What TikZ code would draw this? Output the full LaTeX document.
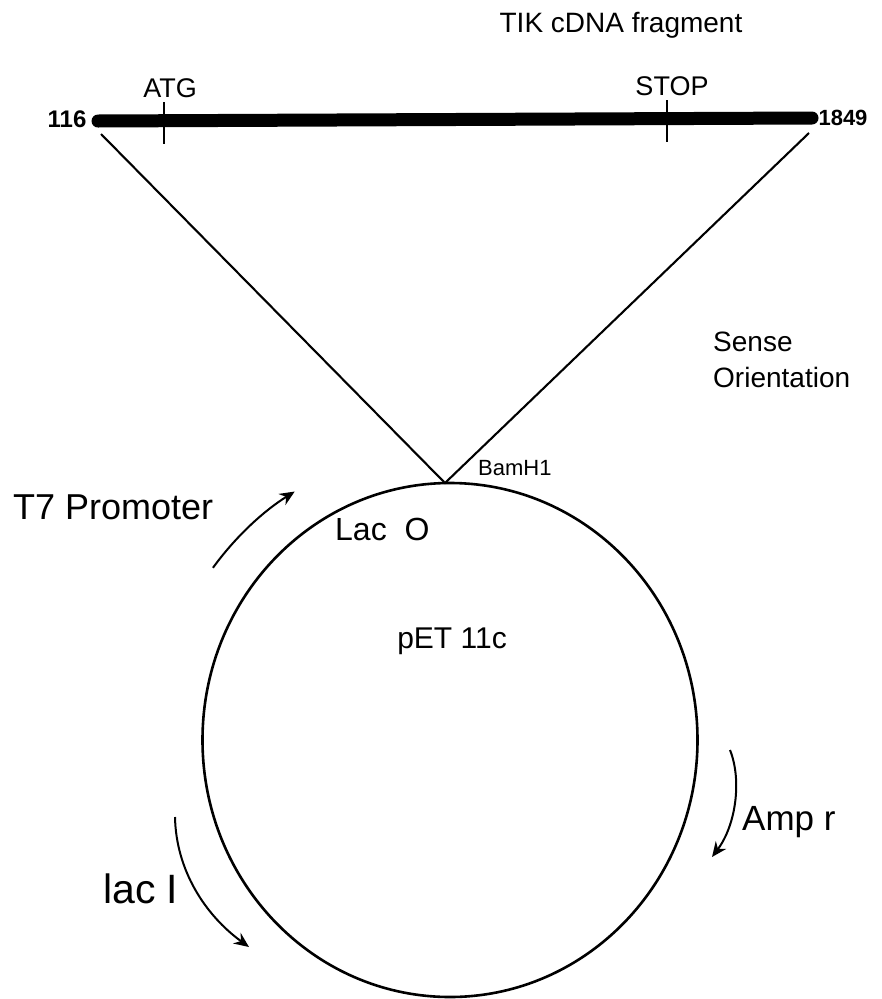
\documentclass[tikz,border=0pt]{standalone}
\usepackage{fontspec}
\setmainfont{Liberation Sans}
\usetikzlibrary{arrows.meta,shapes.geometric}

\begin{document}
\begin{tikzpicture}[x=1pt,y=1pt,
  txt/.style={inner sep=0pt, font=\fontsize{#1}{#1}\selectfont},
  fragment/.style={line width=13pt, line cap=round},
  tickmark/.style={line width=1.8pt},
  insert/.style={line width=2.1pt},
  gene/.style={line width=2pt, -{Stealth[length=15pt,width=13pt,inset=5pt]}}]
\useasboundingbox (0,0) rectangle (882,-999);

% cDNA fragment bar with start and stop codons
\coordinate (barL) at (98,-121);
\coordinate (barR) at (812,-118);
\draw[fragment] (barL) -- (barR);
\coordinate (atgT) at (164,-102);
\coordinate (atgB) at (164,-144);
\coordinate (stopT) at (667,-100);
\coordinate (stopB) at (667,-142);
\draw[tickmark] (atgT) -- (atgB);
\draw[tickmark] (stopT) -- (stopB);

\node[txt=28, anchor=base] (title) at (621,-32) {TIK cDNA fragment};
\node[txt=27, anchor=base] (atg) at (170,-97) {ATG};
\node[txt=27, anchor=base] (stop) at (672,-95) {STOP};
\node[txt=24, anchor=base] (n116) at (67,-127) {\bfseries 116};
\node[txt=22, anchor=base] (n1849) at (843,-125) {\bfseries 1849};

% plasmid
\node[ellipse, draw, line width=2.6pt, minimum width=495pt, minimum height=514pt, inner sep=0pt] (plasmid) at (450,-740) {};
\coordinate (bam) at (445,-483);

% insertion lines
\coordinate (fragL) at (101,-134);
\coordinate (fragR) at (809,-133);
\draw[insert] (fragL) -- (bam) -- (fragR);

\node[txt=22, anchor=base west] (bamh) at (478,-475) {BamH1};
\node[txt=28, anchor=base west] (sense) at (713,-351) {Sense};
\node[txt=28, anchor=base west] (orient) at (713,-387) {Orientation};
\node[txt=32, anchor=base west] (laco) at (335,-540) {Lac~~O};
\node[txt=36, anchor=base west] (t7) at (13,-519) {T7 Promoter};
\node[txt=30, anchor=base] (pet) at (452,-648) {pET 11c};
\node[txt=35, anchor=base west] (amp) at (742,-830) {Amp r};
\node[txt=41, anchor=base west] (laci) at (103,-903) {lac I};

% gene direction arrows
\draw[gene] (450,-740) ++(144:293pt) arc[start angle=144, end angle=122, radius=293pt];
\draw[gene] (730,-750) .. controls (742,-780) and (736,-825) .. (712,-857);
\draw[gene] (175,-817) .. controls (176,-870) and (205,-915) .. (249,-947);
\end{tikzpicture}
\end{document}
